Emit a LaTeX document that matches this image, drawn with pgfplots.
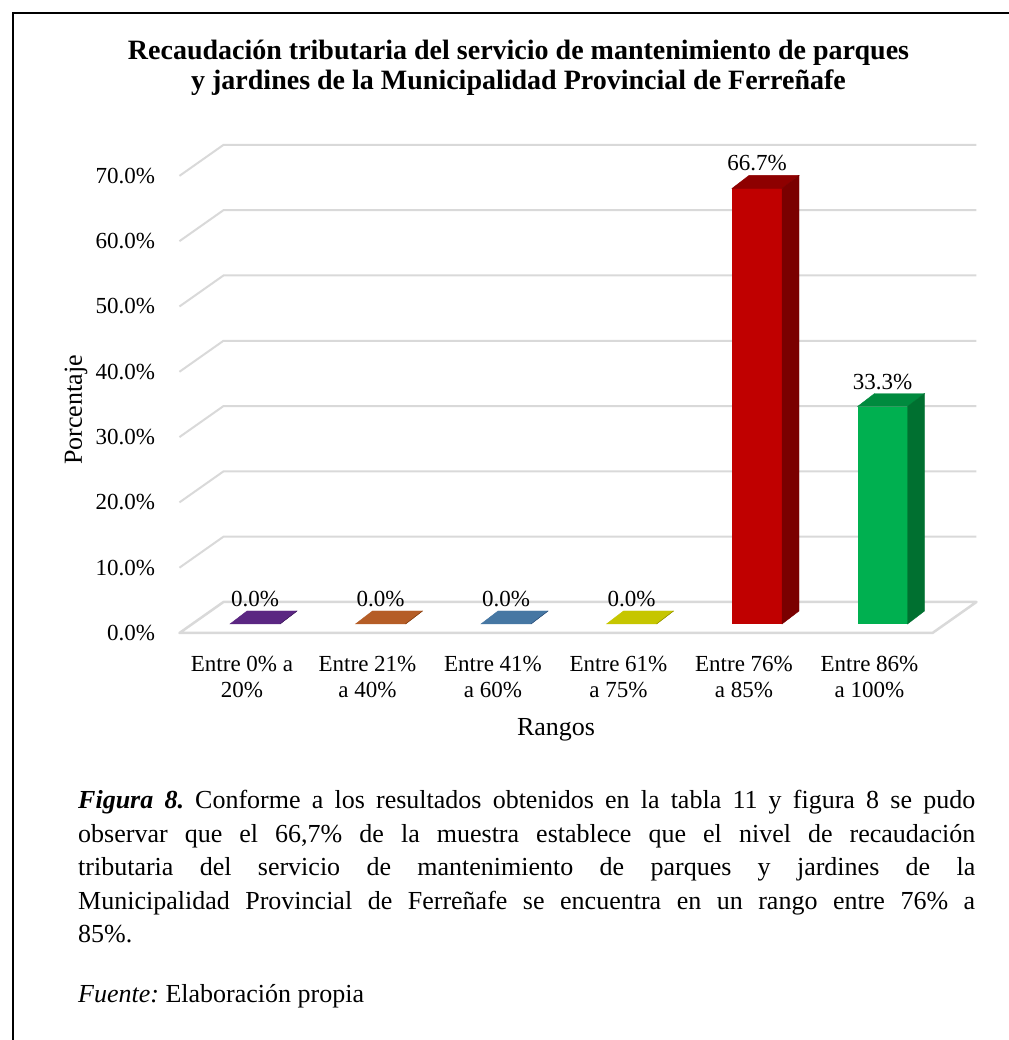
\documentclass[border=0pt]{standalone}
\usepackage{fontspec}
\setmainfont{Liberation Serif}
\usepackage{pgfplots}
\pgfplotsset{compat=1.18}
\pgfkeys{/pgf/number format/assume math mode=true}

\definecolor{gridc}{HTML}{D9D9D9}
\definecolor{pF}{HTML}{7030A0}\definecolor{pS}{HTML}{3E1A5A}\definecolor{pT}{HTML}{5B2682}
\definecolor{oF}{HTML}{C55A11}\definecolor{oS}{HTML}{7A3A0E}\definecolor{oT}{HTML}{B55D26}
\definecolor{bF}{HTML}{4F81BD}\definecolor{bS}{HTML}{2E4F78}\definecolor{bT}{HTML}{4677A3}
\definecolor{yF}{HTML}{D4D400}\definecolor{yS}{HTML}{8A8A00}\definecolor{yT}{HTML}{C6C600}
\definecolor{rF}{HTML}{C00000}\definecolor{rS}{HTML}{7A0000}\definecolor{rT}{HTML}{8E0000}
\definecolor{gF}{HTML}{00B050}\definecolor{gS}{HTML}{007030}\definecolor{gT}{HTML}{008A3E}

\pgfdeclareplotmark{emptymark}{}

% x, y, front, side, top
\newcommand{\barthreed}[5]{%
  \addplot[ybar, bar width=50pt, bar shift=0pt, fill=#3, draw=none,
    nodes near coords={\pgfmathprintnumber[fixed,fixed zerofill,precision=1]{\pgfplotspointmeta}\%},
    every node near coord/.append style={anchor=base, yshift=17.5pt, inner sep=0pt, text=black,
      font=\fontsize{23}{26.5}\selectfont}]
    coordinates {(#1,#2)};
  \addplot[scatter, only marks, mark=emptymark,
    visualization depends on={rawy \as \barval},
    scatter/@pre marker code/.code={%
      \fill[#5] (-25pt,0pt) -- (25pt,0pt) -- (42pt,13pt) -- (-8pt,13pt) -- cycle;
      \fill[#4] (25pt,0pt) -- (42pt,13pt) -- (42pt,{13pt-6.53pt*\barval}) -- (25pt,{-6.53pt*\barval}) -- cycle;
    },
    scatter/@post marker code/.code={}]
    coordinates {(#1,#2)};
}

\begin{document}
\frenchspacing
\begin{tikzpicture}[x=1pt,y=1pt]
\useasboundingbox (0,0) rectangle (1008,1040);
\draw[line width=2pt] (13,-5) -- (13,1027) -- (1015,1027);

\node[font=\bfseries\fontsize{28}{30}\selectfont, align=center, anchor=north, inner sep=0pt]
  at (518.5,1000) {Recaudación tributaria del servicio de mantenimiento de parques\\y jardines de la Municipalidad Provincial de Ferreñafe};

\begin{axis}[
  at={(192.25pt,416pt)}, anchor=south west,
  x=125.5pt, y=6.53pt,
  xmin=-0.5, xmax=5.5, ymin=0, ymax=70,
  clip=false,
  axis line style={draw=none},
  major tick style={draw=none},
  xtick={0,1,2,3,4,5},
  xticklabels={{Entre 0\% a\\20\%},{Entre 21\%\\a 40\%},{Entre 41\%\\a 60\%},{Entre 61\%\\a 75\%},{Entre 76\%\\a 85\%},{Entre 86\%\\a 100\%}},
  xticklabel style={align=center, anchor=north, inner sep=0pt, yshift=-32pt, xshift=-13pt,
    font=\fontsize{23}{26.5}\selectfont},
  ytick={0,10,20,30,40,50,60,70},
  yticklabel={\pgfmathprintnumber[fixed,fixed zerofill,precision=1]{\tick}\%},
  yticklabel style={anchor=east, inner sep=0pt, xshift=-37pt, yshift=-9pt,
    font=\fontsize{23}{26.5}\selectfont},
]
\pgfplotsinvokeforeach{10,20,30,40,50,60,70}{
  \draw[gridc, line width=2pt] ([shift={(-12.8pt,-9pt)}]axis cs:-0.5,#1) -- ([shift={(31.2pt,22pt)}]axis cs:-0.5,#1) -- ([shift={(31.2pt,22pt)}]axis cs:5.5,#1);
}
\filldraw[fill=white, draw=gridc, line width=2.5pt, line join=round]
  ([shift={(-12.8pt,-9pt)}]axis cs:-0.5,0) -- ([shift={(-12.8pt,-9pt)}]axis cs:5.5,0)
  -- ([shift={(31.2pt,22pt)}]axis cs:5.5,0) -- ([shift={(31.2pt,22pt)}]axis cs:-0.5,0) -- cycle;

\barthreed{0}{0}{pF}{pS}{pT}
\barthreed{1}{0}{oF}{oS}{oT}
\barthreed{2}{0}{bF}{bS}{bT}
\barthreed{3}{0}{yF}{yS}{yT}
\barthreed{4}{66.7}{rF}{rS}{rT}
\barthreed{5}{33.3}{gF}{gS}{gT}
\end{axis}

\node[rotate=90, font=\fontsize{26}{30}\selectfont, inner sep=0pt] at (76,630) {Porcentaje};
\node[anchor=base, font=\fontsize{26}{30}\selectfont, inner sep=0pt] at (556,304) {Rangos};

\node[anchor=north west, text width=897pt, align=justify, inner sep=0pt,
  font=\fontsize{26}{33.5}\selectfont] at (78,250)
  {\textbf{\textit{Figura 8.}} Conforme a los resultados obtenidos en la tabla 11 y figura 8 se pudo\linebreak
   observar que el 66,7\% de la muestra establece que el nivel de recaudación\linebreak
   tributaria del servicio de mantenimiento de parques y jardines de la\linebreak
   Municipalidad Provincial de Ferreñafe se encuentra en un rango entre 76\% a\linebreak
   85\%.};
\node[anchor=base west, inner sep=0pt, font=\fontsize{26}{33.5}\selectfont] at (78,37)
  {\textit{Fuente:} Elaboración propia};
\end{tikzpicture}
\end{document}
